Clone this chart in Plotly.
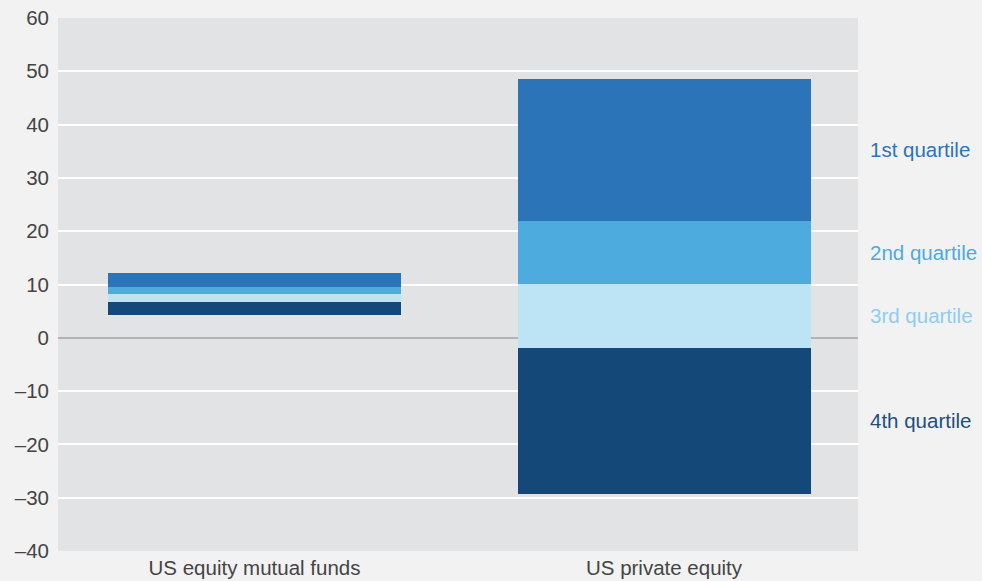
import plotly.graph_objects as go

categories = ["US equity mutual funds", "US private equity"]
quartile_names = ["1st quartile", "2nd quartile", "3rd quartile", "4th quartile"]
# boundaries from top to bottom for each category: [top, q1/q2, q2/q3, q3/q4, bottom]
mf_bounds = [12.1, 9.6, 8.2, 6.7, 4.3]
pe_bounds = [48.6, 22.0, 10.1, -1.9, -29.3]
colors = ["#2b74b8", "#4dabde", "#bde4f5", "#134878"]
label_colors = ["#2b74b8", "#4dabde", "#8ecdee", "#1d4f80"]
tick_vals = [60, 50, 40, 30, 20, 10, 0, -10, -20, -30, -40]
tick_text = ["60", "50", "40", "30", "20", "10", "0", "–10", "–20", "–30", "–40"]

FONT = "Liberation Sans, Arial, sans-serif"

fig = go.Figure()
for i, name in enumerate(quartile_names):
    bases = [mf_bounds[i + 1], pe_bounds[i + 1]]
    heights = [mf_bounds[i] - mf_bounds[i + 1], pe_bounds[i] - pe_bounds[i + 1]]
    fig.add_trace(go.Bar(
        x=categories, y=heights, base=bases, name=name,
        marker=dict(color=colors[i], line=dict(width=0)),
        width=0.7155, showlegend=False, hoverinfo="skip",
    ))

for i, name in enumerate(quartile_names):
    mid = (pe_bounds[i] + pe_bounds[i + 1]) / 2
    fig.add_annotation(
        x=1.012, xref="paper", y=mid, yref="y", text=name, showarrow=False,
        xanchor="left", yanchor="middle",
        font=dict(size=20.5, color=label_colors[i], family=FONT),
    )

fig.update_layout(
    width=982, height=581,
    margin=dict(l=58, r=124, t=18, b=30),
    paper_bgcolor="#f2f2f2", plot_bgcolor="#e2e3e5",
    barmode="overlay", bargap=0,
    font=dict(family=FONT, size=20.5, color="#444444"),
    xaxis=dict(range=[-0.4798, 1.4737], showgrid=False, ticks="", automargin=False,
               ticklabelstandoff=2, tickfont=dict(size=20.5, color="#444444")),
    yaxis=dict(range=[-40, 60], tickvals=tick_vals, ticktext=tick_text, automargin=False,
               showgrid=True, gridcolor="#ffffff", gridwidth=1.5,
               zeroline=True, zerolinecolor="#b3b3b3", zerolinewidth=2,
               ticks="", ticklabelstandoff=8, tickfont=dict(size=20.5, color="#444444")),
)

fig.write_html(
    "out.html",
    config={"displayModeBar": False},
    post_script="document.body.style.margin='0';document.body.style.overflow='hidden';",
)
